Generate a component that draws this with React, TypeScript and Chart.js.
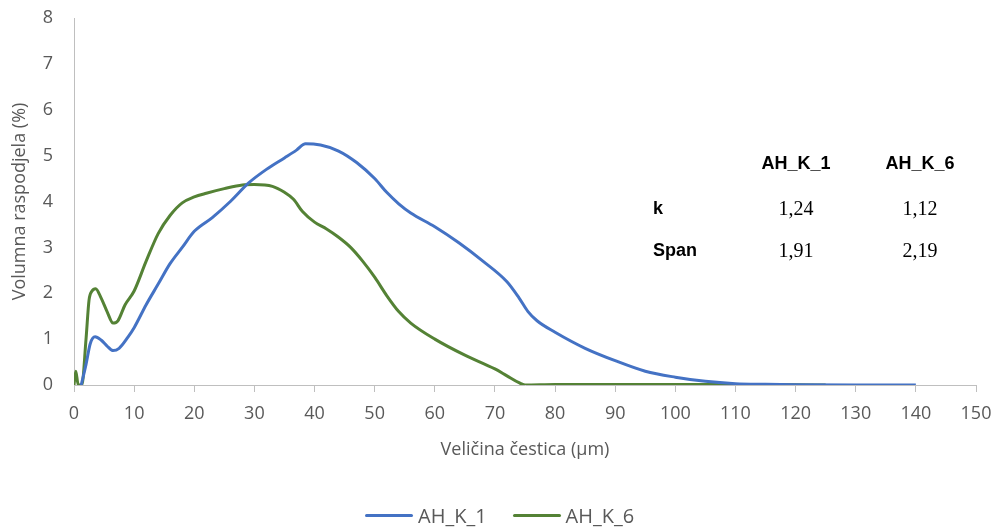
import React, { useEffect, useRef } from "react";
import { Chart, registerables } from "chart.js";

Chart.register(...registerables);

const seriesNames = ["AH_K_1", "AH_K_6"];

const blueX = [1.2, 2, 2.7, 3.5, 4.5, 5.5, 6.5, 7.5, 9, 10, 12, 14, 16, 18, 20, 23, 26, 29, 32, 35, 37, 38.5, 41, 44, 47, 50, 52, 54, 56, 60, 64, 68, 72, 74, 75.5, 77, 80, 85, 90, 95, 100, 105, 110, 115, 120, 130, 140];
const blueY = [0, 0.45, 0.9, 1.05, 0.98, 0.85, 0.75, 0.8, 1.05, 1.25, 1.75, 2.2, 2.65, 3.0, 3.35, 3.65, 4.0, 4.4, 4.7, 4.95, 5.12, 5.26, 5.23, 5.1, 4.85, 4.5, 4.2, 3.95, 3.75, 3.45, 3.1, 2.7, 2.25, 1.9, 1.6, 1.4, 1.15, 0.8, 0.53, 0.3, 0.17, 0.08, 0.03, 0.015, 0.005, 0, 0];

const greenX = [0, 0.3, 0.7, 1.3, 2, 2.5, 3, 3.6, 4.5, 5.5, 6.5, 7.3, 8.5, 10, 12, 14, 16, 18, 20, 22, 25, 28, 30, 33, 35, 36.5, 38, 40, 42, 44, 46, 48, 50, 52, 54, 56, 60, 65, 70, 72, 74, 75, 80, 90, 100, 110, 120, 125];
const greenY = [0, 0.3, 0, 0, 1.0, 1.85, 2.05, 2.1, 1.9, 1.6, 1.35, 1.4, 1.75, 2.05, 2.7, 3.3, 3.7, 3.97, 4.1, 4.18, 4.28, 4.36, 4.37, 4.33, 4.2, 4.05, 3.78, 3.55, 3.4, 3.22, 3.0, 2.7, 2.35, 1.95, 1.6, 1.35, 1.0, 0.65, 0.35, 0.2, 0.05, 0, 0.01, 0.01, 0.01, 0.01, 0.005, 0];

const xTitle = "Veličina čestica (µm)";
const yTitle = "Volumna raspodjela (%)";

const tableRows = ["k", "Span"];
const kValues = ["1,24", "1,12"];
const spanValues = ["1,91", "2,19"];

const colors = ["#4472C4", "#548235"];
const axisGray = "#BFBFBF";
const textGray = "#595959";
const font = "'Open Sans', 'Liberation Sans', sans-serif";

export default function App() {
  const ref = useRef<HTMLCanvasElement | null>(null);

  useEffect(() => {
    if (!ref.current) return;
    const toPts = (xs: number[], ys: number[]) => xs.map((x, i) => ({ x, y: ys[i] }));
    const chart = new Chart(ref.current, {
      type: "line",
      data: {
        datasets: [
          {
            label: seriesNames[0],
            data: toPts(blueX, blueY),
            borderColor: colors[0],
            backgroundColor: colors[0],
            borderWidth: 3,
            pointRadius: 0,
            cubicInterpolationMode: "monotone",
            fill: false,
          },
          {
            label: seriesNames[1],
            data: toPts(greenX, greenY),
            borderColor: colors[1],
            backgroundColor: colors[1],
            borderWidth: 3,
            pointRadius: 0,
            cubicInterpolationMode: "monotone",
            fill: false,
          },
        ],
      },
      options: {
        animation: false,
        responsive: false,
        devicePixelRatio: 1,
        layout: { padding: { left: 0, top: 18, right: 19, bottom: 0 } },
        plugins: { legend: { display: false }, tooltip: { enabled: false } },
        scales: {
          x: {
            type: "linear",
            min: 0,
            max: 150,
            afterFit: (s: any) => { s.height = 142; },
            ticks: { stepSize: 10, color: textGray, font: { family: font, size: 18, lineHeight: 2.42 }, padding: 0, maxRotation: 0 },
            grid: { display: true, drawOnChartArea: false, drawTicks: true, tickLength: 7, color: axisGray, lineWidth: 1 },
            border: { display: true, color: axisGray, width: 1 },
            title: { display: true, text: xTitle, color: textGray, font: { family: font, size: 18 }, padding: { top: 0, bottom: 66 } },
          },
          y: {
            type: "linear",
            min: 0,
            max: 8,
            afterFit: (s: any) => { s.width = 74; },
            ticks: { stepSize: 1, color: textGray, font: { family: font, size: 18 }, padding: 0 },
            grid: { display: true, drawOnChartArea: false, drawTicks: true, tickLength: 21, color: "rgba(0,0,0,0)" },
            border: { display: true, color: axisGray, width: 1 },
            title: { display: true, text: yTitle, color: textGray, font: { family: font, size: 18 }, padding: { top: 9, bottom: 0 } },
          },
        },
      },
    } as any);
    return () => chart.destroy();
  }, []);

  const boldStyle: React.CSSProperties = {
    position: "absolute",
    fontFamily: "'Liberation Sans', Arial, sans-serif",
    fontWeight: "bold",
    fontSize: 18,
    color: "#000",
    whiteSpace: "nowrap",
    lineHeight: 1,
  };
  const serifStyle: React.CSSProperties = {
    position: "absolute",
    fontFamily: "'Liberation Serif', 'Times New Roman', serif",
    fontSize: 20,
    color: "#000",
    whiteSpace: "nowrap",
    lineHeight: 1,
    transform: "translate(-50%, -50%)",
  };
  const colX = [796, 920];
  const rowY = [208, 250];

  return (
    <div style={{ position: "fixed", left: 0, top: 0, width: 995, height: 527, background: "#fff", overflow: "hidden" }}>
      <canvas ref={ref} width={995} height={527} style={{ position: "absolute", left: 0, top: 0, width: 995, height: 527 }} />
      {seriesNames.map((n, i) => (
        <div key={"h" + n} style={{ ...boldStyle, left: colX[i], top: 163, transform: "translate(-50%, -50%)" }}>{n}</div>
      ))}
      {tableRows.map((r, i) => (
        <div key={"r" + r} style={{ ...boldStyle, left: 653, top: rowY[i], transform: "translateY(-50%)" }}>{r}</div>
      ))}
      {kValues.map((v, i) => (
        <div key={"k" + i} style={{ ...serifStyle, left: colX[i], top: rowY[0] }}>{v}</div>
      ))}
      {spanValues.map((v, i) => (
        <div key={"s" + i} style={{ ...serifStyle, left: colX[i], top: rowY[1] }}>{v}</div>
      ))}
      <div style={{ position: "absolute", left: 365, top: 502, height: 26, display: "flex", alignItems: "center", fontFamily: font, fontSize: 20, color: textGray }}>
        {seriesNames.map((n, i) => (
          <div key={"l" + n} style={{ display: "flex", alignItems: "center", marginRight: i === 0 ? 26 : 0 }}>
            <div style={{ width: 48, height: 3, background: colors[i], borderRadius: 1.5, marginRight: 5 }} />
            <span>{n}</span>
          </div>
        ))}
      </div>
    </div>
  );
}
